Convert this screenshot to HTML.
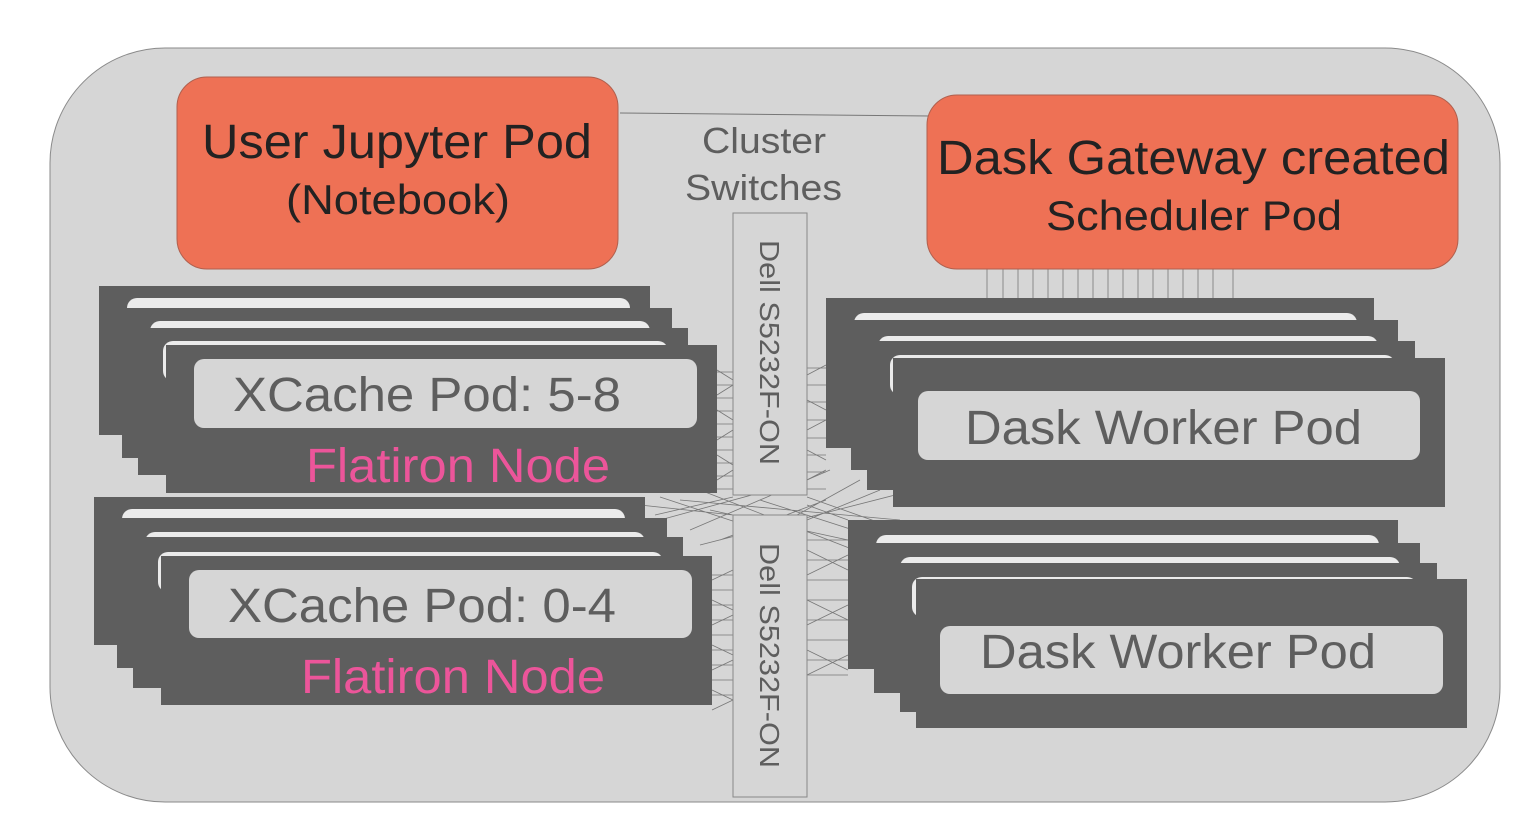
<!DOCTYPE html>
<html><head><meta charset="utf-8"><style>
html,body{margin:0;padding:0;background:#fff;}
svg{display:block;}
text{font-family:"Liberation Sans",sans-serif;}
</style></head><body>
<svg width="1536" height="830" viewBox="0 0 1536 830" xmlns="http://www.w3.org/2000/svg">
<rect x="50" y="48" width="1450" height="754" rx="115" fill="#d6d6d6" stroke="#8a8a8a" stroke-width="1"/>
<line x1="620" y1="113" x2="930" y2="116" stroke="#777" stroke-width="1"/>
<g stroke="#777" stroke-width="0.8" fill="none">
<path d="M717 372H733M717 385H733M717 398H733M717 411H733M717 424H733M717 437H733M717 450H733M717 463H733M717 476H733M717 489H733"/>
<path d="M712 575H733M712 590H733M712 605H733M712 620H733M712 635H733M712 650H733M712 665H733M712 680H733M712 695H733"/>
<path d="M807 368H826M807 385H826M807 402H826M807 420H826M807 438H826M807 455H826M807 472H826M807 489H826"/>
<path d="M807 540H848M807 560H848M807 580H848M807 600H848M807 620H848M807 640H848M807 660H848M807 675H848"/>
<path d="M717 370L733 380M717 395L733 385M717 410L733 420M717 440L733 430M717 455L733 465M717 480L733 470"/>
<path d="M807 375L826 365M807 400L826 410M807 430L826 420M807 450L826 460M807 480L826 470"/>
<path d="M712 580L733 570M712 600L733 610M712 625L733 615M712 645L733 655M712 670L733 660M712 690L733 700M712 710L733 700"/>
<path d="M807 550L848 570M807 575L848 555M807 600L848 620M807 625L848 605M807 650L848 670M807 675L848 655"/>
<path d="M660 497L760 530M660 520L770 490M680 500L900 520M690 530L830 470M700 490L880 560M700 545L895 495M710 510L848 540M720 540L826 500M760 500L900 545M770 530L860 480M807 497L900 530M807 520L880 490M640 505L733 515M655 515L733 497M807 505L848 520"/>
</g>
<g stroke="#777" stroke-width="0.8">
<path d="M987 269V358M1003 269V358M1018 269V358M1033 269V358M1048 269V358M1063 269V358M1078 269V358M1093 269V358M1108 269V358M1123 269V358M1138 269V358M1153 269V358M1168 269V358M1183 269V358M1198 269V358M1213 269V358M1233 269V358"/>
</g>
<rect x="733" y="213" width="74" height="282" fill="#d6d6d6" stroke="#888"/>
<rect x="733" y="515" width="74" height="282" fill="#d6d6d6" stroke="#888"/>
<text transform="translate(760,240) rotate(90)" font-size="28" fill="#5e5e5e" textLength="225" lengthAdjust="spacingAndGlyphs">Dell S5232F-ON</text>
<text transform="translate(760,543) rotate(90)" font-size="28" fill="#5e5e5e" textLength="225" lengthAdjust="spacingAndGlyphs">Dell S5232F-ON</text>
<text x="702" y="153" font-size="36" fill="#5e5e5e" textLength="124" lengthAdjust="spacingAndGlyphs">Cluster</text>
<text x="685" y="200" font-size="36" fill="#5e5e5e" textLength="157" lengthAdjust="spacingAndGlyphs">Switches</text>
<rect x="177" y="77" width="441" height="192" rx="30" fill="#ee7155" stroke="#b0604e"/>
<text x="202" y="158" font-size="48" fill="#222" textLength="390" lengthAdjust="spacingAndGlyphs">User Jupyter Pod</text>
<text x="286" y="214" font-size="42" fill="#222" textLength="224" lengthAdjust="spacingAndGlyphs">(Notebook)</text>
<rect x="927" y="95" width="531" height="174" rx="30" fill="#ee7155" stroke="#b0604e"/>
<text x="937" y="174" font-size="48" fill="#222" textLength="513" lengthAdjust="spacingAndGlyphs">Dask Gateway created</text>
<text x="1046" y="230" font-size="42" fill="#222" textLength="296" lengthAdjust="spacingAndGlyphs">Scheduler Pod</text>
<g fill="#5e5e5e">
<rect x="99" y="286" width="551" height="149"/>
<rect x="127" y="298" width="503" height="40" rx="10" fill="#ebebeb"/>
<rect x="122" y="308" width="550" height="150"/>
<rect x="150" y="321" width="500" height="40" rx="10" fill="#ebebeb"/>
<rect x="138" y="328" width="550" height="147"/>
<rect x="163" y="341" width="505" height="40" rx="10" fill="#ebebeb"/>
<rect x="166" y="345" width="551" height="148"/>
<rect x="94" y="497" width="551" height="148"/>
<rect x="122" y="509" width="503" height="40" rx="10" fill="#ebebeb"/>
<rect x="117" y="518" width="550" height="150"/>
<rect x="145" y="532" width="500" height="40" rx="10" fill="#ebebeb"/>
<rect x="133" y="537" width="550" height="151"/>
<rect x="158" y="552" width="505" height="40" rx="10" fill="#ebebeb"/>
<rect x="161" y="556" width="551" height="149"/>
<rect x="826" y="298" width="548" height="150"/>
<rect x="854" y="313" width="503" height="40" rx="10" fill="#ebebeb"/>
<rect x="851" y="320" width="547" height="150"/>
<rect x="878" y="336" width="500" height="40" rx="10" fill="#ebebeb"/>
<rect x="867" y="341" width="548" height="149"/>
<rect x="890" y="355" width="505" height="40" rx="10" fill="#ebebeb"/>
<rect x="893" y="358" width="552" height="149"/>
<rect x="848" y="520" width="550" height="149"/>
<rect x="876" y="535" width="503" height="40" rx="10" fill="#ebebeb"/>
<rect x="874" y="543" width="546" height="150"/>
<rect x="900" y="557" width="500" height="40" rx="10" fill="#ebebeb"/>
<rect x="900" y="563" width="537" height="149"/>
<rect x="912" y="577" width="505" height="40" rx="10" fill="#ebebeb"/>
<rect x="916" y="579" width="551" height="149"/>
</g>
<g fill="#d6d6d6">
<rect x="194" y="359" width="503" height="69" rx="10"/>
<rect x="189" y="570" width="503" height="68" rx="10"/>
<rect x="918" y="391" width="502" height="69" rx="10"/>
<rect x="940" y="626" width="503" height="68" rx="10"/>
</g>
<g font-size="48" fill="#5e5e5e">
<text x="233" y="411" textLength="388" lengthAdjust="spacingAndGlyphs">XCache Pod: 5-8</text>
<text x="228" y="622" textLength="388" lengthAdjust="spacingAndGlyphs">XCache Pod: 0-4</text>
<text x="965" y="444" textLength="397" lengthAdjust="spacingAndGlyphs">Dask Worker Pod</text>
<text x="980" y="668" textLength="396" lengthAdjust="spacingAndGlyphs">Dask Worker Pod</text>
</g>
<g font-size="48" fill="#ec559a">
<text x="306" y="482" textLength="304" lengthAdjust="spacingAndGlyphs">Flatiron Node</text>
<text x="301" y="693" textLength="304" lengthAdjust="spacingAndGlyphs">Flatiron Node</text>
</g>
</svg>
</body></html>
